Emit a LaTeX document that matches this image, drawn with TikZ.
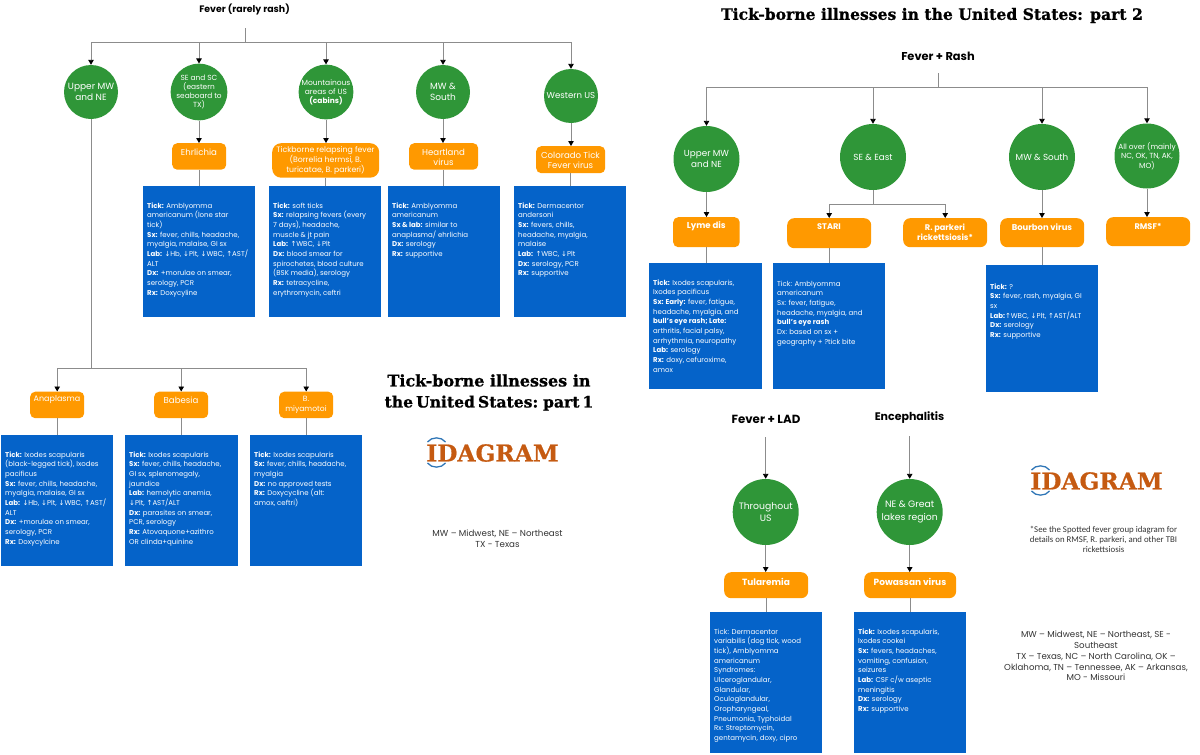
\documentclass[tikz,border=0pt]{standalone}
\usepackage{fontspec}
\usetikzlibrary{arrows.meta}
\setmainfont{Poppins}
\newfontfamily\arrfont{DejaVu Sans}
\newfontfamily\slabfont[BoldFeatures={FakeBold=0.8}]{DejaVu Serif}
\newfontfamily\carlitofont{Carlito}
\definecolor{cgreen}{HTML}{2F9638}
\definecolor{corange}{HTML}{FF9900}
\definecolor{cblue}{HTML}{0563C9}
\definecolor{cline}{HTML}{8C8C8C}
\definecolor{clogo}{HTML}{C55A11}
\definecolor{carc}{HTML}{2E75B6}
\newcommand\arup{{\arrfont ↑}}
\newcommand\ardn{{\arrfont ↓}}
\newcommand\fsz[2]{\fontsize{#1}{#2}\selectfont}
\tikzset{
  x=1pt,y=-1pt,
  conn/.style={draw=cline,line width=0.9pt},
  arrowconn/.style={conn,-{Triangle[black,width=5.5pt,length=5pt]}},
  region/.style={circle,fill=cgreen,text=white,inner sep=0pt,align=center,font=\fsz{9}{11}},
  illness/.style={fill=corange,inner sep=0pt,anchor=north west},
  illnesstext/.style={text=white,inner sep=0pt,align=center},
  info/.style={fill=cblue,inner sep=0pt,anchor=north west},
  infotext/.style={text=white,inner sep=0pt,align=left,anchor=north west,font=\fsz{7}{9.67}},
  heading/.style={inner sep=0pt,align=center,font=\bfseries\fsz{9.4}{11}},
  title/.style={inner sep=0pt,align=center,font=\slabfont\bfseries\fsz{15.6}{21}},
  logotext/.style={inner sep=0pt,text=clogo,font=\slabfont\bfseries\fsz{23.3}{24}},
  logoarc/.style={draw=carc,line width=1.3pt},
  note/.style={inner sep=0pt,align=center,text=black!80,font=\fsz{8.7}{10.8}},
}
% name, x0,y0,x1,y1, first line y, text
\newcommand\infobox[7]{%
  \node[info,minimum width={(#4-#2)*1pt},minimum height={(#5-#3)*1pt}] (#1) at (#2,#3) {};
  \node[infotext] (#1t) at ({#2+4},{#6-3.9}) {\strut#7};
}
% name, x0,y0,x1,y1, radius, text y, font size, text
\newcommand\illbox[9]{%
  \node[illness,rounded corners=#6pt,minimum width={(#4-#2)*1pt},minimum height={(#5-#3)*1pt}] (#1) at (#2,#3) {};
  \node[illnesstext,font=\fsz{#8}{10}] (#1t) at ({(#2+#4)/2},#7) {#9};
}
\newcommand\drawlogo[3]{%
  \node[logotext,anchor=center] (#1) at (#2,#3) {IDAGRAM};
  \draw[logoarc] ({#2-65},{#3-11}) .. controls ({#2-61},{#3-16.5}) and ({#2-51},{#3-16.5}) .. ({#2-47},{#3-11});
  \draw[logoarc] ({#2-65},{#3+10}) .. controls ({#2-61},{#3+15.5}) and ({#2-51},{#3+15.5}) .. ({#2-47},{#3+10});
}
\begin{document}
\begin{tikzpicture}
\useasboundingbox (0,0) rectangle (1200,755);
% ---------- Part 1
\node[heading] (fever1) at (244.5,9.5) {Fever (rarely rash)};
\coordinate (s1) at (245,28);
\coordinate (j1) at (245,42);
\node[region,minimum size=54pt] (a1) at (91,92) {Upper MW\\and NE};
\node[region,minimum size=54pt,font=\fsz{7.4}{9}] (a2) at (199,92) {SE and SC\\(eastern\\seaboard to\\TX)};
\node[region,minimum size=54pt,font=\fsz{7.5}{9}] (a3) at (326,92) {Mountainous\\areas of US\\\textbf{(cabins)}};
\node[region,minimum size=54pt] (a4) at (443,92) {MW \&\\South};
\node[region,minimum size=54pt,font=\fsz{8.6}{11}] (a5) at (571,96) {Western US};
\illbox{o2}{172}{143}{226}{169.5}{5}{152}{8.6}{Ehrlichia}
\illbox{o3}{272}{143}{379}{177.5}{9}{161}{7.8}{Tickborne relapsing fever\\(Borrelia hermsi, B.\\turicatae, B. parkeri)}
\illbox{o4}{409}{143}{478}{169.5}{5}{157}{8.6}{Heartland\\virus}
\illbox{o5}{536}{146}{605}{173}{5}{160.5}{8.6}{Colorado Tick\\Fever virus}
\infobox{b2}{143}{186}{255}{317}{205}{\textbf{Tick:} Amblyomma\\americanum (lone star\\tick)\\\textbf{Sx:} fever, chills, headache,\\myalgia, malaise, GI sx\\\textbf{Lab:} \ardn Hb, \ardn Plt, \ardn WBC, \arup AST/\\ALT\\\textbf{Dx:} +morulae on smear,\\serology, PCR\\\textbf{Rx:} Doxycyline}
\infobox{b3}{269}{186}{381}{317}{205}{\textbf{Tick:} soft ticks\\\textbf{Sx:} relapsing fevers (every\\7 days), headache,\\muscle \& jt pain\\\textbf{Lab:} \arup WBC, \ardn Plt\\\textbf{Dx:} blood smear for\\spirochetes, blood culture\\(BSK media), serology\\\textbf{Rx:} tetracycline,\\erythromycin, ceftri}
\infobox{b4}{388}{186}{500}{317}{205}{\textbf{Tick:} Amblyomma\\americanum\\\textbf{Sx \& lab:} similar to\\anaplasma/ ehrlichia\\\textbf{Dx:} serology\\\textbf{Rx:} supportive}
\infobox{b5}{514}{186}{626}{317}{205}{\textbf{Tick:} Dermacentor\\andersoni\\\textbf{Sx:} fevers, chills,\\headache, myalgia,\\malaise\\\textbf{Lab:} \arup WBC, \ardn Plt\\\textbf{Dx:} serology, PCR\\\textbf{Rx:} supportive}
\draw[conn] (s1) -- (j1);
\foreach \n in {a1,a2,a3,a4,a5} {\draw[arrowconn] (j1) -- (j1 -| \n) -- (\n.north);}
\foreach \n/\m in {a2/o2,a3/o3,a4/o4,a5/o5} {\draw[arrowconn] (\n.south) -- (\n.south |- \m.north);}
\foreach \n/\m in {o2/b2,o3/b3,o4/b4,o5/b5} {\draw[conn] (\n.south) -- (\n.south |- \m.north);}
\coordinate (j2) at (91,368);
\illbox{o6}{30}{391.5}{84}{418}{5}{400}{8}{Anaplasma}
\illbox{o7}{154}{391.5}{208}{418}{5}{400}{8.6}{Babesia}
\illbox{o8}{279}{391.5}{333}{418}{5}{405}{7.6}{B.\\miyamotoi}
\infobox{b6}{1}{435}{113}{566}{454}{\textbf{Tick:} Ixodes scapularis\\(black-legged tick), Ixodes\\pacificus\\\textbf{Sx:} fever, chills, headache,\\myalgia, malaise, GI sx\\\textbf{Lab:} \ardn Hb, \ardn Plt, \ardn WBC, \arup AST/\\ALT\\\textbf{Dx:} +morulae on smear,\\serology, PCR\\\textbf{Rx:} Doxycylcine}
\infobox{b7}{125}{435}{238}{566}{454}{\textbf{Tick:} Ixodes scapularis\\\textbf{Sx:} fever, chills, headache,\\GI sx, splenomegaly,\\jaundice\\\textbf{Lab:} hemolytic anemia,\\\ardn Plt, \arup AST/ALT\\\textbf{Dx:} parasites on smear,\\PCR, serology\\\textbf{Rx:} Atovaquone+azithro\\OR clinda+quinine}
\infobox{b8}{250}{435}{362}{566}{454}{\textbf{Tick:} Ixodes scapularis\\\textbf{Sx:} fever, chills, headache,\\myalgia\\\textbf{Dx:} no approved tests\\\textbf{Rx:} Doxycycline (alt:\\amox, ceftri)}
\draw[conn] (a1.south) -- (j2);
\foreach \m in {o6,o7,o8} {\draw[arrowconn] (j2) -- (j2 -| \m) -- (\m.north);}
\foreach \n/\m in {o6/b6,o7/b7,o8/b8} {\draw[conn] (\n.south) -- (\n.south |- \m.north);}
\node[title,font=\slabfont\bfseries\fsz{16}{21}] (title1) at (489,392.5) {Tick-borne illnesses in\\{\fsz{15.6}{21}\spaceskip=3pt the United States: part 1}};
\drawlogo{logo1}{492.5}{453}
\node[note] (note1) at (497.5,539) {MW -- Midwest, NE -- Northeast\\TX - Texas};
% ---------- Part 2
\node[title] (title2) at (932,15.5) {Tick-borne illnesses in the United States: part 2};
\node[heading,font=\bfseries\fsz{11.4}{13}] (fever2) at (938,56) {Fever + Rash};
\coordinate (s2) at (938,73);
\coordinate (j3) at (938,87);
\node[region,minimum size=66pt,font=\fsz{8.8}{11}] (c1) at (706.5,159) {Upper MW\\and NE};
\node[region,minimum size=66pt,font=\fsz{8.8}{11}] (c2) at (873,157) {SE \& East};
\node[region,minimum size=66pt,font=\fsz{8.8}{11}] (c3) at (1042,157) {MW \& South};
\node[region,minimum size=65pt,font=\fsz{7.4}{9.6}] (c4) at (1147,156) {All over (mainly\\NC, OK, TN, AK,\\MO)};
\illbox{d1}{673}{217}{739.5}{247}{5}{226.5}{8.6}{\textbf{Lyme dis}}
\illbox{d2}{787}{218}{871}{248}{7}{227}{8.2}{\textbf{STARI}}
\illbox{d3}{903}{218}{987}{247}{7}{232}{8.2}{\textbf{R. parkeri}\\\textbf{rickettsiosis*}}
\illbox{d4}{1000}{218}{1084}{247}{7}{227}{8.4}{\textbf{Bourbon virus}}
\illbox{d5}{1106}{217}{1190}{246}{7}{226}{8.2}{\textbf{RMSF*}}
\infobox{e1}{649}{263}{762}{389}{282}{\textbf{Tick:} Ixodes scapularis,\\Ixodes pacificus\\\textbf{Sx: Early:} fever, fatigue,\\headache, myalgia, and\\\textbf{bull's eye rash; Late:}\\arthritis, facial palsy,\\arrhythmia, neuropathy\\\textbf{Lab:} serology\\\textbf{Rx:} doxy, cefuroxime,\\amox}
\infobox{e2}{773}{263}{885}{389}{283}{Tick: Amblyomma\\americanum\\Sx: fever, fatigue,\\headache, myalgia, and\\\textbf{bull's eye rash}\\Dx: based on sx +\\geography + ?tick bite}
\infobox{e4}{986}{265}{1098}{392}{286}{\textbf{Tick:} ?\\\textbf{Sx:} fever, rash, myalgia, GI\\sx\\\textbf{Lab:}\arup WBC, \ardn Plt, \arup AST/ALT\\\textbf{Dx:} serology\\\textbf{Rx:} supportive}
\draw[conn] (s2) -- (j3);
\foreach \n in {c1,c2,c3,c4} {\draw[arrowconn] (j3) -- (j3 -| \n) -- (\n.north);}
\coordinate (j4) at (873,204);
\draw[conn] (c2.south) -- (j4);
\foreach \m in {d2,d3} {\draw[arrowconn] (j4) -- (j4 -| \m) -- (\m.north);}
\foreach \n/\m in {c1/d1,c3/d4,c4/d5} {\draw[arrowconn] (\n.south) -- (\n.south |- \m.north);}
\foreach \n/\m in {d1/e1,d2/e2,d4/e4} {\draw[conn] (\n.south) -- (\n.south |- \m.north);}
\node[heading,font=\bfseries\fsz{11.8}{13}] (fever3) at (766,419) {Fever + LAD};
\node[heading,font=\bfseries\fsz{11}{13}] (enc) at (909.5,418) {Encephalitis};
\coordinate (s3) at (765.7,437);
\coordinate (s4) at (909.7,436);
\node[region,minimum size=66pt,font=\fsz{9.3}{12.2}] (f1) at (765.7,512) {Throughout\\US};
\node[region,minimum size=66pt,font=\fsz{9.3}{12.2}] (f2) at (909.7,512) {NE \& Great\\lakes region};
\illbox{g1}{724}{572}{808}{598}{7}{581.7}{9}{\textbf{Tularemia}}
\illbox{g2}{864}{572}{956}{598}{7}{581.7}{9}{\textbf{Powassan virus}}
\infobox{h1}{710}{612}{822}{753}{631}{Tick: Dermacentor\\variabilis (dog tick, wood\\tick), Amblyomma\\americanum\\Syndromes:\\Ulceroglandular,\\Glandular,\\Oculoglandular,\\Oropharyngeal,\\Pneumonia, Typhoidal\\Rx: Streptomycin,\\gentamycin, doxy, cipro}
\infobox{h2}{854}{612}{966}{753}{631}{\textbf{Tick:} Ixodes scapularis,\\Ixodes cookei\\\textbf{Sx:} fevers, headaches,\\vomiting, confusion,\\seizures\\\textbf{Lab:} CSF c/w aseptic\\meningitis\\\textbf{Dx:} serology\\\textbf{Rx:} supportive}
\draw[arrowconn] (s3) -- (f1.north);
\draw[arrowconn] (s4) -- (f2.north);
\draw[arrowconn] (f1.south) -- (f1.south |- g1.north);
\draw[arrowconn] (f2.south) -- (f2.south |- g2.north);
\draw[conn] (g1.south) -- (g1.south |- h1.north);
\draw[conn] (g2.south) -- (g2.south |- h2.north);
\drawlogo{logo2}{1096.5}{481}
\node[inner sep=0pt,align=center,text=black!80,font=\carlitofont\fsz{8.8}{9.7}] (note2) at (1103.5,539.5) {*See the Spotted fever group idagram for\\details on RMSF, R. parkeri, and other TBI\\rickettsiosis};
\node[note,font=\fsz{8.65}{10.8}] (note3) at (1096,656) {MW -- Midwest, NE -- Northeast, SE -\\Southeast\\TX -- Texas, NC -- North Carolina, OK --\\Oklahoma, TN -- Tennessee, AK -- Arkansas,\\MO - Missouri};
\end{tikzpicture}
\end{document}
